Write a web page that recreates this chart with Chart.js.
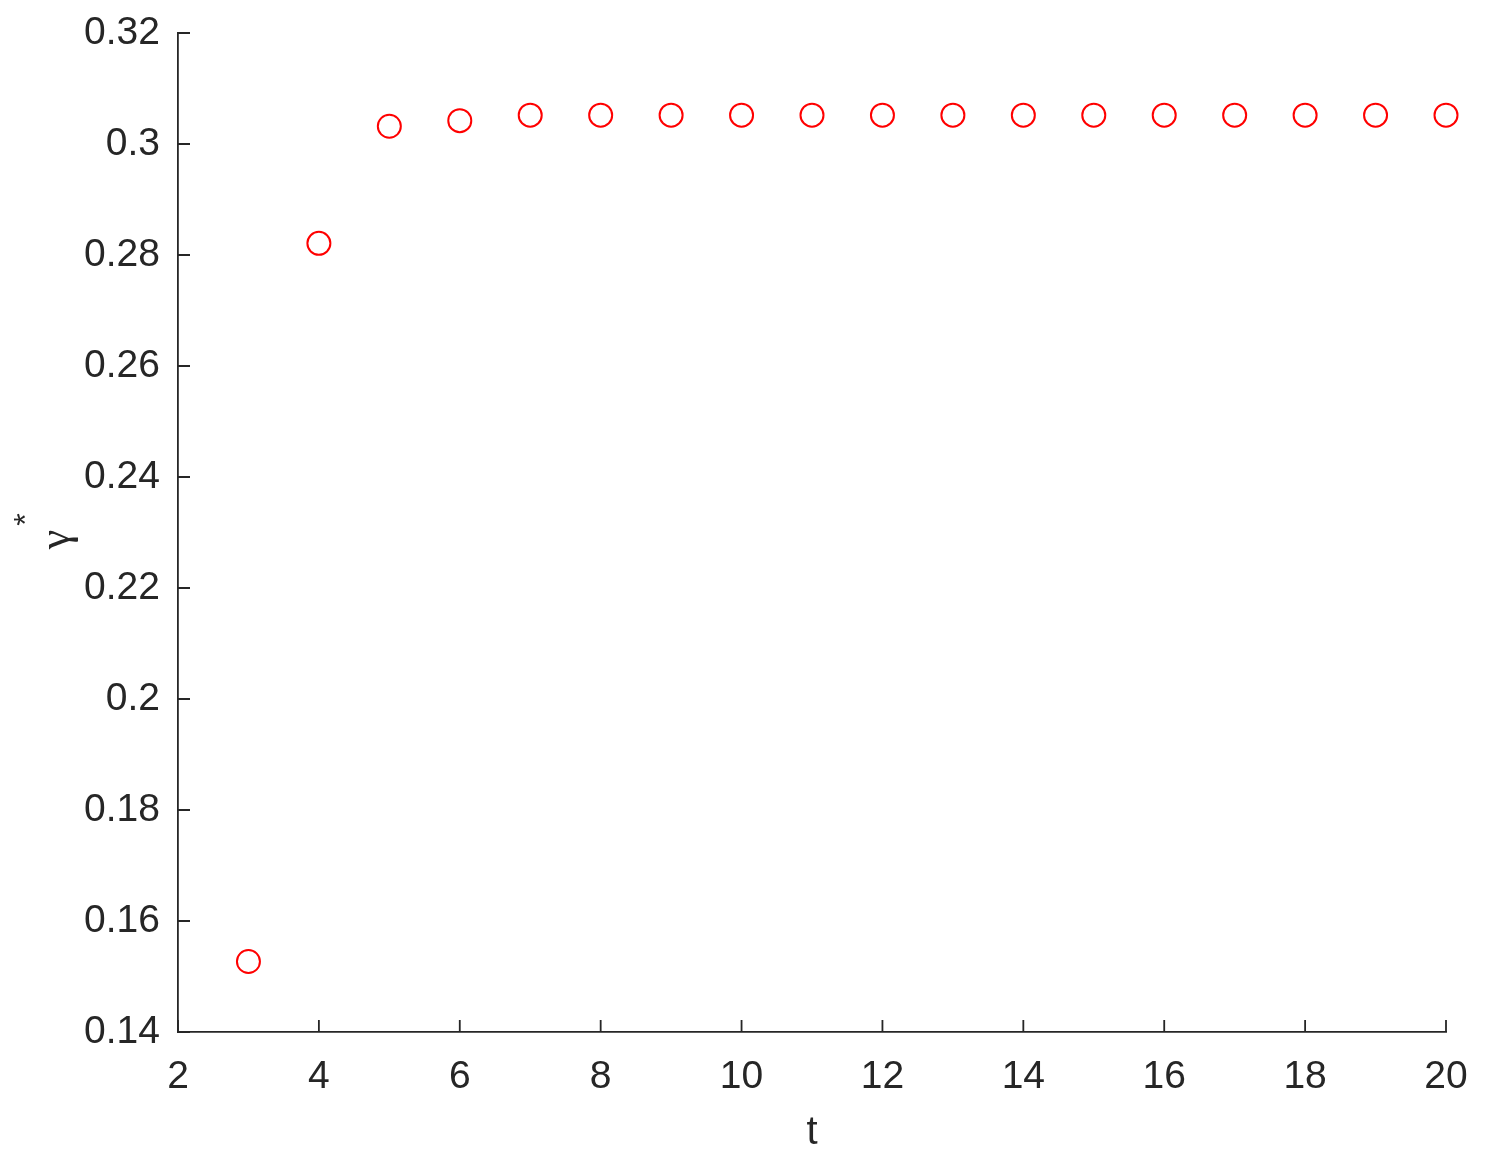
<!DOCTYPE html>
<html>
<head>
<meta charset="utf-8">
<script src="https://cdn.jsdelivr.net/npm/chart.js@4/dist/chart.umd.min.js"></script>
<style>
  html, body { margin: 0; padding: 0; background: #ffffff; }
  #wrap { width: 1501px; height: 1168px; }
</style>
</head>
<body>
<div id="wrap"><canvas id="c" width="1501" height="1168"></canvas></div>
<script>
// ---- data ----
const tValues = [3, 4, 5, 6, 7, 8, 9, 10, 11, 12, 13, 14, 15, 16, 17, 18, 19, 20];
const gammaValues = [0.1527, 0.2821, 0.3032, 0.3042, 0.3052, 0.3052, 0.3052, 0.3052, 0.3052,
                     0.3052, 0.3052, 0.3052, 0.3052, 0.3052, 0.3052, 0.3052, 0.3052, 0.3052];
const xLabel = 't';
const yLabelMain = 'γ';
const yLabelSup = '*';
const xRange = [2, 20];
const yRange = [0.14, 0.32];

const AXIS_COLOR = '#262626';
const FONT = '"Liberation Sans", Arial, Helvetica, sans-serif';

const points = tValues.map((t, i) => ({ x: t, y: gammaValues[i] }));

const inwardTicks = {
  id: 'inwardTicks',
  afterDraw(chart) {
    const ctx = chart.ctx;
    const xs = chart.scales.x, ys = chart.scales.y;
    const area = chart.chartArea;
    const len = 12;
    ctx.save();
    ctx.strokeStyle = AXIS_COLOR;
    ctx.lineWidth = 1.8;
    ctx.beginPath();
    xs.ticks.forEach(tk => {
      const px = xs.getPixelForValue(tk.value);
      ctx.moveTo(px, area.bottom);
      ctx.lineTo(px, area.bottom - len);
    });
    ys.ticks.forEach(tk => {
      const py = ys.getPixelForValue(tk.value);
      ctx.moveTo(area.left, py);
      ctx.lineTo(area.left + len, py);
    });
    ctx.stroke();

    // y axis label: gamma with superscript star, rotated
    const cy = (area.top + area.bottom) / 2 + 7;
    ctx.translate(57, cy);
    ctx.rotate(-Math.PI / 2);
    ctx.fillStyle = AXIS_COLOR;
    ctx.textAlign = 'center';
    ctx.textBaseline = 'middle';
    ctx.font = '44px "Liberation Serif", "DejaVu Serif", serif';
    ctx.fillText(yLabelMain, 0, 0);
    ctx.font = '32px ' + FONT;
    ctx.fillText(yLabelSup, 20, -30);
    ctx.restore();
  }
};

new Chart(document.getElementById('c'), {
  type: 'scatter',
  data: {
    datasets: [{
      data: points,
      pointStyle: 'circle',
      pointRadius: 11.5,
      pointHoverRadius: 11.5,
      borderColor: '#ff0000',
      backgroundColor: 'rgba(0,0,0,0)',
      borderWidth: 2,
      showLine: false,
      clip: false
    }]
  },
  options: {
    responsive: false,
    animation: false,
    events: [],
    layout: { padding: { top: 33, right: 55, left: 0, bottom: 0 } },
    plugins: { legend: { display: false }, tooltip: { enabled: false } },
    scales: {
      x: {
        type: 'linear',
        min: xRange[0], max: xRange[1],
        afterFit(scale) { scale.height = 136; scale.paddingLeft = 0; scale.paddingRight = 0; },
        grid: { display: true, drawOnChartArea: false, drawTicks: false },
        border: { display: true, color: AXIS_COLOR, width: 1.8 },
        ticks: {
          stepSize: 2, color: AXIS_COLOR, padding: 22,
          font: { family: FONT, size: 39 },
          maxRotation: 0, autoSkip: false
        },
        title: {
          display: true, text: xLabel, color: AXIS_COLOR,
          font: { family: FONT, size: 40 },
          padding: { top: 0, bottom: 11 }
        }
      },
      y: {
        type: 'linear',
        min: yRange[0], max: yRange[1],
        afterFit(scale) { scale.width = 178; scale.paddingTop = 0; scale.paddingBottom = 0; },
        grid: { display: true, drawOnChartArea: false, drawTicks: false },
        border: { display: true, color: AXIS_COLOR, width: 1.8 },
        ticks: {
          stepSize: 0.02, color: AXIS_COLOR, padding: 18,
          font: { family: FONT, size: 39 },
          autoSkip: false,
          callback: v => String(Number(v.toFixed(2)))
        }
      }
    }
  },
  plugins: [inwardTicks]
});
</script>
</body>
</html>
